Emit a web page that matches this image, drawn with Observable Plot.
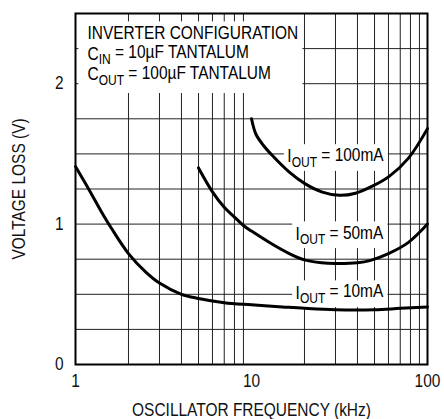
<!DOCTYPE html>
<html><head><meta charset="utf-8">
<script src="https://cdn.jsdelivr.net/npm/d3@7"></script>
<script src="https://cdn.jsdelivr.net/npm/@observablehq/plot@0.6"></script>
<style>
body{margin:0;background:#fff}
svg{font-family:"Liberation Sans",Arial,sans-serif}
</style>
</head><body><div id="chart"></div>
<script>
// Series: voltage loss (V) vs oscillator frequency (kHz)
const freq10mA = [1, 1.2, 1.4, 1.6, 2, 2.5, 3, 4, 5, 7, 10, 15, 20, 30, 50, 70, 100];
const loss10mA = [1.41, 1.24, 1.09, 0.97, 0.79, 0.66, 0.58, 0.50, 0.47, 0.44, 0.425, 0.41, 0.40, 0.39, 0.39, 0.40, 0.41];
const freq50mA = [5, 6, 7, 8, 9, 10, 13, 16.4, 20, 25, 30, 40, 47, 60, 78, 100];
const loss50mA = [1.40, 1.23, 1.12, 1.05, 0.99, 0.95, 0.86, 0.79, 0.745, 0.725, 0.72, 0.725, 0.74, 0.79, 0.87, 1.0];
const freq100mA = [10, 10.6, 11.7, 13.1, 16.4, 20, 25, 31.6, 39, 48.6, 60.6, 78, 100];
const loss100mA = [1.75, 1.64, 1.56, 1.49, 1.37, 1.29, 1.23, 1.205, 1.22, 1.27, 1.34, 1.47, 1.68];

const xTicks = [1, 10, 100];
const yTicks = [0, 1, 2];
const xGrid = [2, 3, 4, 5, 6, 7, 8, 9, 20, 30, 40, 50, 60, 70, 80, 90];
const yGrid = [0.25, 0.5, 0.75, 1, 1.25, 1.5, 1.75, 2, 2.25];

const curveLabels = ["IOUT = 100mA", "IOUT = 50mA", "IOUT = 10mA"];
const curveLabelX = [30, 31.6, 31.6];
const curveLabelY = [1.48, 0.93, 0.51];

const noteLines = ["INVERTER CONFIGURATION", "CIN = 10\u00b5F TANTALUM", "COUT = 100\u00b5F TANTALUM"];
const noteX = [1.17, 1.17, 1.17];
const noteY = [2.358, 2.213, 2.064];

const toPts = (xs, ys) => xs.map((x, i) => ({x, y: ys[i]}));
const labelData = curveLabels.map((t, i) => ({t, x: curveLabelX[i], y: curveLabelY[i]}));
const noteData = noteLines.map((t, i) => ({t, x: noteX[i], y: noteY[i]}));

const FS = 18;
const chart = Plot.plot({
  width: 444, height: 419,
  marginLeft: 75, marginRight: 17, marginTop: 13, marginBottom: 55,
  style: {fontSize: FS + "px", fontFamily: '"Liberation Sans",Arial,sans-serif', color: "#111", background: "#fff"},
  x: {type: "log", domain: [1, 100]},
  y: {domain: [0, 2.5]},
  marks: [
    Plot.ruleX(xGrid, {stroke: "#222", strokeWidth: 1}),
    Plot.ruleY(yGrid, {stroke: "#222", strokeWidth: 1}),
    Plot.rect([0], {x1: () => 1.045, x2: () => 19.6, y1: () => 1.93, y2: () => 2.44, fill: "white"}),
    Plot.line(toPts(freq10mA, loss10mA), {x: "x", y: "y", stroke: "black", strokeWidth: 3, curve: "catmull-rom"}),
    Plot.line(toPts(freq50mA, loss50mA), {x: "x", y: "y", stroke: "black", strokeWidth: 3, curve: "catmull-rom"}),
    Plot.line(toPts(freq100mA, loss100mA), {x: "x", y: "y", stroke: "black", strokeWidth: 3, curve: "catmull-rom"}),
    Plot.text(labelData, {x: "x", y: "y", text: "t", fill: "black", fontSize: FS}),
    Plot.text(noteData, {x: "x", y: "y", text: "t", fill: "black", textAnchor: "start", fontSize: FS}),
    Plot.frame({stroke: "black", strokeWidth: 2}),
    Plot.axisX({ticks: xTicks, tickSize: 0, tickPadding: 10, tickFormat: d => String(d), fontSize: FS,
      label: "OSCILLATOR FREQUENCY (kHz)", labelAnchor: "center", labelArrow: "none", labelOffset: 51}),
    Plot.axisY({ticks: yTicks, tickSize: 0, tickPadding: 12, tickFormat: d => String(d), fontSize: FS,
      label: "VOLTAGE LOSS (V)", labelAnchor: "center", labelArrow: "none", labelOffset: 63})
  ]
});
document.getElementById("chart").appendChild(chart);

const svg = d3.select(chart);
const curveLabelEls = [];
// Subscripts for IOUT, CIN, COUT
svg.selectAll("text").each(function() {
  const s = this.textContent;
  const m = s.match(/^([IC])(OUT|IN)( = .*)$/);
  if (!m) return;
  if (m[1] === "I") curveLabelEls.push(this);
  const el = d3.select(this);
  el.selectAll("*").remove();
  el.text(null);
  el.append("tspan").text(m[1]);
  el.append("tspan").attr("font-size", Math.round(FS * 0.8)).attr("dy", "0.3em").text(m[2]);
  el.append("tspan").attr("dy", "-0.3em").text(m[3]);
});
// Condensed lettering like the original (narrow grotesque): squeeze each text about its anchor
svg.selectAll("text").each(function() {
  const ax = parseFloat(this.getAttribute("x")) || 0;
  const t = this.getAttribute("transform") || "";
  this.setAttribute("transform", `${t} translate(${ax},0) scale(0.86,1) translate(${-ax},0)`.trim());
});
// White boxes behind the curve labels, under the curves but over the grid
try {
  const firstCurve = chart.querySelector('g[aria-label="line"]');
  curveLabelEls.forEach(function(el) {
    const b = el.getBBox();
    const ns = "http://www.w3.org/2000/svg";
    const g = document.createElementNS(ns, "g");
    const parentT = el.parentNode.getAttribute("transform");
    if (parentT) g.setAttribute("transform", parentT);
    const r = document.createElementNS(ns, "rect");
    r.setAttribute("x", b.x - 4);
    r.setAttribute("y", b.y - 1);
    r.setAttribute("width", b.width + 8);
    r.setAttribute("height", b.height + 2);
    r.setAttribute("fill", "white");
    const t = el.getAttribute("transform");
    if (t) r.setAttribute("transform", t);
    g.appendChild(r);
    firstCurve.parentNode.insertBefore(g, firstCurve);
  });
} catch (e) { console.error(e); }
</script>
</body></html>
